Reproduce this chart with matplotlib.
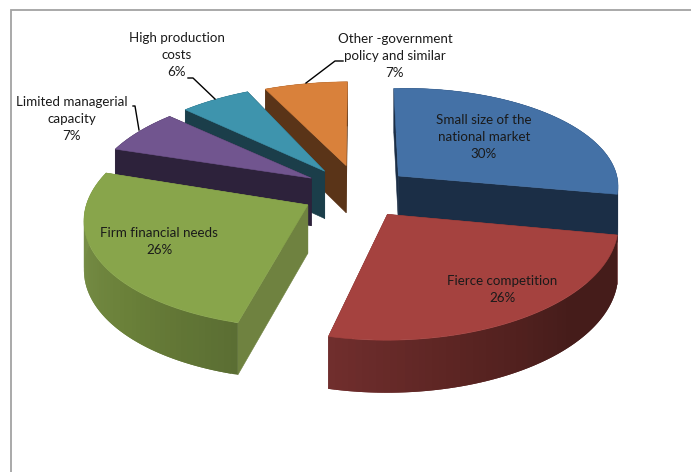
import numpy as np
import matplotlib
matplotlib.use('Agg')
import matplotlib.pyplot as plt
from matplotlib.colors import to_rgb

# shares as printed on the slice labels, clockwise from the top
shares = [30, 26, 26, 7, 6, 7]
names = ['Small size of the\nnational market', 'Fierce competition', 'Firm financial needs',
         'Limited managerial\ncapacity', 'High production\ncosts', 'Other -government\npolicy and similar']

top_colors = ['#4471A6', '#A5423F', '#88A54B', '#71558F', '#3E94AD', '#D9813B']
cut_colors = ['#1B2E46', '#6E2D2C', '#6F8240', '#2D223B', '#1B3E4A', '#5A3418']
# wall colour stops, running clockwise along each slice
wall_stops = [['#1B2E46', '#1B2E46'],
              ['#451C1A', '#451C1A', '#5A2422', '#702E2D'],
              ['#5B6E33', '#6A8039', '#758C45', '#7A9147'],
              ['#2D223B', '#2D223B'],
              ['#1B3E4A', '#1B3E4A'],
              ['#5A3418', '#5A3418']]

# label centres (x, y of first line) and leader lines
label_pos = [(484, 119), (502, 280), (159, 232), (72, 101), (177, 37), (395, 38)]
leaders = {3: [(133, 106), (135, 106), (139, 130)],
           4: [(188, 78), (193, 78), (215, 99)],
           5: [(343, 61), (335, 61), (306, 83)]}

# perspective of the pie plane on the page
H = np.array([[214.520712, 65.815411, 361.143338],
              [5.793381, -75.667927, 190.168096],
              [-0.002717, 0.135026, 1.0]])
START = -6.5
EXPLODE = 0.27
DEPTH = 48.0
DRAW_ORDER = [5, 4, 3, 2, 0, 1]

# small per-slice corrections to the perspective, in pixels: centre, first rim corner, last rim corner
corner_nudge = [[(-7, 3), (0, 1), (1, -1)],
                [(-4, 0), (3, -4), (2, 1)],
                [(-1, 1), (6, 1), (-1, -2)],
                [(0, 1), (-1, -1), (0, -1)],
                [(-2, 2), (0, -1), (2, -1)],
                [(-1, 1), (1, 0), (5, 1)]]


def project(x, y):
    w = H[2, 0] * x + H[2, 1] * y + H[2, 2]
    u = (H[0, 0] * x + H[0, 1] * y + H[0, 2]) / w
    v = (H[1, 0] * x + H[1, 1] * y + H[1, 2]) / w
    return u, v, DEPTH / np.sqrt(w)


def ramp(stops, n):
    rgb = np.array([to_rgb(c) for c in stops])
    pos = np.linspace(0, 1, len(stops))
    t = np.linspace(0, 1, n)
    return np.column_stack([np.interp(t, pos, rgb[:, k]) for k in range(3)])


def draw_slice(ax, t0, t1, idx):
    mid = (t0 + t1) / 2
    ox, oy = EXPLODE * np.sin(mid), EXPLODE * np.cos(mid)
    t = np.linspace(t0, t1, 60)
    rx, ry, rd = project(ox + np.sin(t), oy + np.cos(t))
    cx, cy, cd = project(ox, oy)

    nudge = corner_nudge[idx]
    cx, cy = cx + nudge[0][0], cy + nudge[0][1]
    f = np.linspace(0, 1, len(t))
    rx = rx + nudge[1][0] * (1 - f) + nudge[2][0] * f
    ry = ry + nudge[1][1] * (1 - f) + nudge[2][1] * f

    z = idx_z[idx]
    # the two cut faces from the centre out to the rim
    for k in (0, -1):
        xs = [cx, rx[k], rx[k], cx]
        ys = [cy, ry[k], ry[k] + rd[k], cy + cd]
        ax.fill(xs, ys, color=cut_colors[idx], lw=0.4, zorder=z)

    # outer wall as overlapping strips so the shade can change along it
    cols = ramp(wall_stops[idx], len(t) - 1)
    for j in range(len(t) - 1):
        e = min(j + 2, len(t) - 1)
        xs = [rx[j], rx[j + 1], rx[e], rx[e], rx[j + 1], rx[j]]
        ys = [ry[j], ry[j + 1], ry[e], ry[e] + rd[e], ry[j + 1] + rd[j + 1], ry[j] + rd[j]]
        ax.fill(xs, ys, color=cols[j], lw=0, zorder=z)

    ax.fill(np.r_[cx, rx], np.r_[cy, ry], color=top_colors[idx], lw=0.4, zorder=z + 0.5)


fig = plt.figure(figsize=(6.91, 4.72), dpi=100)
ax = fig.add_axes([0, 0, 1, 1])
ax.set_xlim(0, 691)
ax.set_ylim(472, 0)
ax.axis('off')

# chart area border, cut off by the page on the right and at the bottom
ax.plot([11, 11, 691], [472, 9.5, 9.5], color='#A3A3A3', lw=1.3, solid_joinstyle='miter')

edges = np.radians(START + np.cumsum(np.r_[0, shares]) / np.sum(shares) * 360)
idx_z = {i: 2 + 2 * n for n, i in enumerate(DRAW_ORDER)}
for i in DRAW_ORDER:
    draw_slice(ax, edges[i], edges[i + 1], i)

for i, pts in leaders.items():
    ax.plot(*zip(*pts), color='black', lw=1.0, zorder=30)

for i, name in enumerate(names):
    ax.text(label_pos[i][0], label_pos[i][1] - 5, '%s\n%d%%' % (name, shares[i]), ha='center', va='top',
            family='Lato', fontsize=9.6, color='#1A1A1A', linespacing=1.52, zorder=31)

fig.savefig('out.png', dpi=100)
